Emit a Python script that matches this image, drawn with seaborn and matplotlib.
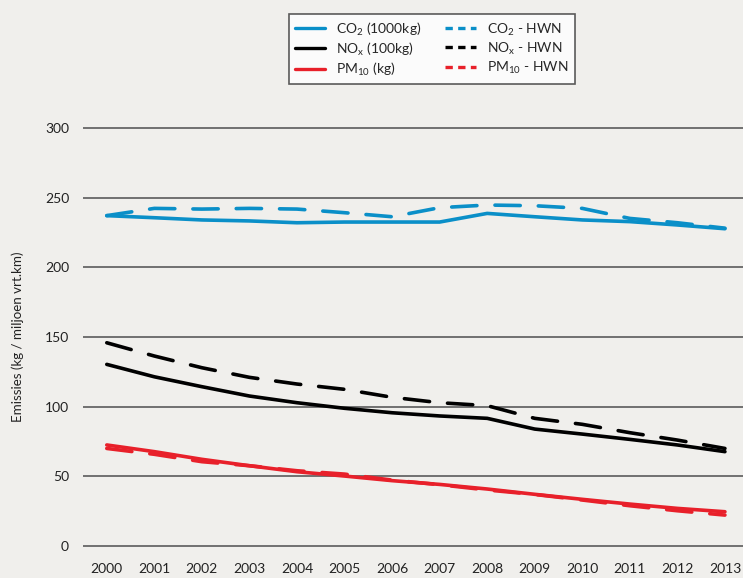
import matplotlib
matplotlib.use("Agg")
import matplotlib.pyplot as plt
from matplotlib.lines import Line2D
import seaborn as sns
import numpy as np
import pandas as pd

# Values
years = list(range(2000, 2014))
co2 = [237, 235.5, 233.9, 233.2, 231.9, 232.4, 232.4, 232.4, 238.6, 236.2, 233.9, 232.7, 230.3, 227.6]
co2_hwn = [237, 242.2, 241.7, 242.2, 241.7, 239.1, 236.2, 242.7, 244.6, 244.1, 242.2, 235.0, 231.9, 228.0]
nox = [130.3, 121.4, 114.3, 107.6, 102.8, 98.8, 95.6, 93.3, 91.6, 83.9, 80.3, 76.5, 72.5, 67.7]
nox_hwn = [145.8, 136.3, 127.9, 121.0, 116.2, 112.4, 106.7, 102.8, 100.7, 91.6, 87.3, 81.3, 76.0, 70.0]
pm10 = [72.5, 67.7, 62.2, 57.6, 53.3, 50.2, 46.9, 44.2, 40.9, 37.1, 33.5, 30.1, 27.0, 24.6]
pm10_hwn = [70.0, 65.8, 60.5, 57.6, 54.0, 51.6, 47.3, 44.0, 40.2, 37.0, 33.0, 28.9, 25.3, 22.2]

series_names = [r"CO$_\mathrm{2}$ (1000kg)", r"NO$_\mathrm{x}$ (100kg)", r"PM$_\mathrm{10}$ (kg)",
                r"CO$_\mathrm{2}$ - HWN", r"NO$_\mathrm{x}$ - HWN", r"PM$_\mathrm{10}$ - HWN"]
series_values = [co2, nox, pm10, co2_hwn, nox_hwn, pm10_hwn]

blue, black, red = "#0a8fc8", "#000000", "#e8202a"
colors = [blue, black, red, blue, black, red]
palette = dict(zip(series_names, colors))
dash_map = dict(zip(series_names, [(None, None)] * 3 + [(7.0, 5.0)] * 3))

df = pd.concat([pd.DataFrame({"year": years, "value": v, "series": n})
                for n, v in zip(series_names, series_values)], ignore_index=True)

bg = "#f0efec"
sns.set_style("white")
plt.rcParams["font.family"] = ["Lato", "DejaVu Sans"]
plt.rcParams["mathtext.fontset"] = "custom"
plt.rcParams["mathtext.rm"] = "Lato"

fig = plt.figure(figsize=(7.43, 5.78), dpi=100, facecolor=bg)
ax = fig.add_axes([83 / 743, 0.0529, 660 / 743, 0.7284])
ax.set_facecolor(bg)

sns.lineplot(data=df, x="year", y="value", hue="series", style="series",
             palette=palette, dashes=dash_map, hue_order=series_names,
             style_order=series_names, linewidth=2.6, legend=False, ax=ax)
for ln in ax.lines:
    ln.set_solid_capstyle("round")
    ln.set_dash_capstyle("round")

ax.set_xlim(1999.5, 2013.38)
ax.set_ylim(-1, 301)
ax.set_yticks([0, 50, 100, 150, 200, 250, 300])
ax.set_xticks(years)
ax.yaxis.grid(True, color="#666666", linewidth=1.3)
ax.set_axisbelow(True)
for s in ax.spines.values():
    s.set_visible(False)
ax.tick_params(axis="both", length=0, labelsize=10, labelcolor="#222222")
ax.tick_params(axis="y", pad=10)
ax.tick_params(axis="x", pad=11)
ax.set_xlabel("")
ax.set_ylabel("")
fig.text(18 / 743, 1 - 337 / 578, "Emissies (kg / miljoen vrt.km)", rotation=90,
         ha="center", va="center", fontsize=9.6, color="#222222")

# legend proxies with a shorter dash pattern, like the reference key
handles = [Line2D([], [], color=c, linewidth=2.4,
                  linestyle="-" if i < 3 else (0, (2.2, 1.6)))
           for i, c in enumerate(colors)]
leg = fig.legend(handles, series_names, loc="upper center", ncol=2,
                 bbox_to_anchor=(0.581, 0.988), frameon=True, fancybox=False,
                 fontsize=10, handlelength=2.2, columnspacing=1.7,
                 labelspacing=0.2, borderpad=0.45, handletextpad=0.8)
leg.get_frame().set_edgecolor("#333333")
leg.get_frame().set_linewidth(1.2)
leg.get_frame().set_facecolor("#ffffff")

fig.savefig("out.png", dpi=100, facecolor=bg)
